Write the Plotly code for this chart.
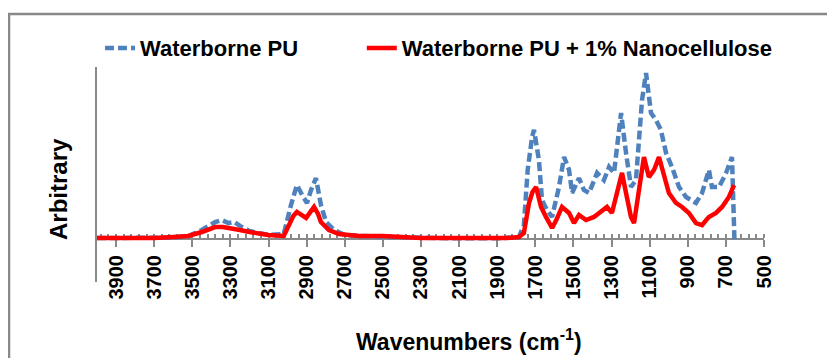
import plotly.graph_objects as go

# ---- data ----
wn_pu = [4000, 3900, 3800, 3700, 3600, 3520, 3450, 3380, 3345, 3310, 3280, 3240, 3200, 3100,
         3020, 2982, 2951, 2924, 2898, 2877, 2851, 2825, 2798, 2756, 2700, 2500, 2300, 2100,
         1900, 1800, 1786, 1760, 1740, 1717, 1707, 1681, 1665, 1639, 1612, 1576, 1549, 1523,
         1507, 1471, 1445, 1418, 1376, 1340, 1313, 1287, 1250, 1224, 1198, 1172, 1140, 1119,
         1093, 1067, 1041, 1014, 983, 946, 909, 857, 825, 789, 773, 736, 699, 668, 660, 655]
val_pu = [0.006, 0.006, 0.004, 0.006, 0.008, 0.018, 0.054, 0.102, 0.114, 0.096, 0.102, 0.072,
          0.048, 0.024, 0.030, 0.205, 0.325, 0.265, 0.217, 0.295, 0.367, 0.205, 0.102, 0.054,
          0.024, 0.012, 0.006, 0.004, 0.004, 0.006, 0.012, 0.084, 0.416, 0.614, 0.657, 0.476,
          0.235, 0.175, 0.133, 0.313, 0.494, 0.416, 0.277, 0.367, 0.295, 0.277, 0.398, 0.355,
          0.434, 0.398, 0.759, 0.518, 0.313, 0.355, 0.837, 1.000, 0.759, 0.717, 0.657, 0.518,
          0.434, 0.313, 0.253, 0.217, 0.277, 0.416, 0.313, 0.313, 0.398, 0.494, 0.235, -0.010]

wn_nc = [4000, 3900, 3800, 3700, 3600, 3520, 3450, 3380, 3340, 3300, 3250, 3200, 3100, 3020,
         2993, 2970, 2951, 2925, 2903, 2880, 2861, 2840, 2825, 2783, 2730, 2625, 2500, 2300,
         2000, 1850, 1786, 1760, 1733, 1715, 1696, 1670, 1644, 1612, 1590, 1560, 1523, 1497,
         1471, 1434, 1392, 1355, 1324, 1298, 1271, 1245, 1224, 1198, 1182, 1156, 1130, 1104,
         1077, 1051, 1025, 999, 962, 930, 894, 857, 825, 789, 752, 720, 684, 657]
val_nc = [0.006, 0.006, 0.005, 0.006, 0.012, 0.018, 0.042, 0.072, 0.072, 0.066, 0.054, 0.042,
          0.024, 0.018, 0.084, 0.139, 0.163, 0.145, 0.127, 0.163, 0.193, 0.151, 0.102, 0.054,
          0.030, 0.018, 0.018, 0.006, 0.003, 0.006, 0.012, 0.036, 0.217, 0.283, 0.313, 0.193,
          0.133, 0.066, 0.114, 0.193, 0.157, 0.096, 0.145, 0.114, 0.133, 0.163, 0.193, 0.157,
          0.277, 0.398, 0.277, 0.133, 0.096, 0.277, 0.494, 0.373, 0.416, 0.494, 0.373, 0.277,
          0.217, 0.193, 0.157, 0.096, 0.084, 0.133, 0.157, 0.193, 0.253, 0.325]

names = ["Waterborne PU", "Waterborne PU + 1% Nanocellulose"]
x_title = "Wavenumbers (cm<sup>-1</sup>)"
y_title = "Arbitrary"

BLUE = "#4F81BD"
RED = "#FF0000"
GRAY = "#898989"
FONT = "Liberation Sans"

legfont = dict(family=FONT, size=22, weight="bold", color="black")

fig = go.Figure()
fig.add_trace(go.Scatter(x=wn_pu, y=val_pu, mode="lines", name=names[0], legend="legend",
                         line=dict(color=BLUE, width=4.5, dash="9px,4px")))
fig.add_trace(go.Scatter(x=wn_nc, y=val_nc, mode="lines", name=names[1], legend="legend2",
                         line=dict(color=RED, width=4.5)))

# page adds an 8px body margin, so the figure is 8px smaller on each side
fig.update_layout(
    width=827, height=350,
    margin=dict(l=89, r=71, t=59, b=76, autoexpand=False),
    paper_bgcolor="white", plot_bgcolor="white",
    font=dict(family=FONT, color="black"),
    showlegend=True,
    legend=dict(x=0.0045, xanchor="left", y=1.088, yanchor="middle",
                font=legfont, bgcolor="rgba(0,0,0,0)"),
    legend2=dict(x=0.397, xanchor="left", y=1.088, yanchor="middle",
                 font=legfont, bgcolor="rgba(0,0,0,0)"),
    xaxis=dict(range=[4000, 500], tick0=500, dtick=200, showgrid=False, zeroline=False,
               showline=True, linecolor=GRAY, linewidth=2,
               ticks="outside", ticklen=7, tickwidth=2, tickcolor=GRAY,
               tickangle=-90, tickfont=dict(family=FONT, size=20, weight="bold", color="black"),
               minor=dict(dtick=40, tick0=500, ticks="inside", ticklen=4, tickwidth=1.5,
                          tickcolor=GRAY, showgrid=False),
               anchor="free", position=0.2, layer="below traces", automargin=False),
    yaxis=dict(range=[-0.259, 1.036], showgrid=False, zeroline=False, showline=True,
               linecolor=GRAY, linewidth=2, ticks="", showticklabels=False,
               layer="below traces", automargin=False),
    shapes=[dict(type="rect", xref="paper", yref="paper", x0=-0.1319, x1=1.12,
                 y0=-0.40, y1=1.2465, line=dict(color=GRAY, width=2.5),
                 fillcolor="rgba(0,0,0,0)", layer="below")],
    annotations=[
        dict(text=x_title, xref="paper", yref="paper", x=0.558, y=-0.272,
             xanchor="center", yanchor="middle", showarrow=False,
             font=dict(family=FONT, size=23, weight="bold", color="black")),
        dict(text=y_title, xref="paper", yref="paper", x=-0.057, y=0.4326,
             xanchor="center", yanchor="middle", showarrow=False, textangle=-90,
             font=dict(family=FONT, size=24, weight="bold", color="black")),
    ],
)

fig.write_html("out.html")
